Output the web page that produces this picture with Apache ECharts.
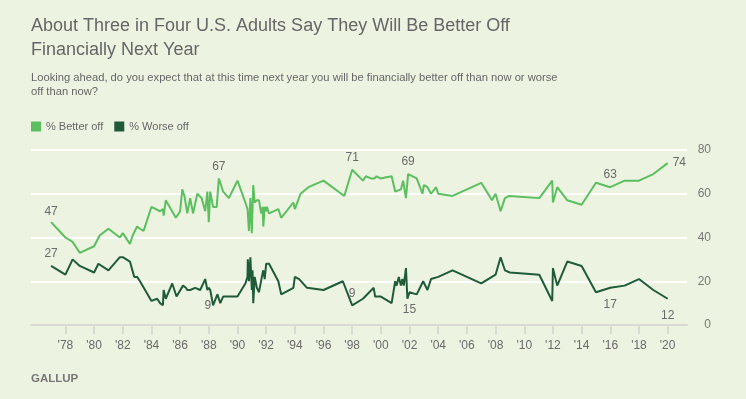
<!DOCTYPE html>
<html>
<head>
<meta charset="utf-8">
<script src="https://cdn.jsdelivr.net/npm/echarts@6/dist/echarts.min.js"></script>
<style>
html,body{margin:0;padding:0;background:#EDF3E1;}
#chart{width:746px;height:399px;}
</style>
</head>
<body>
<div id="chart"></div>
<script>
// ---- Data ----
const betterYears = [1977.0,1978.0,1978.5,1979.0,1980.0,1980.4,1981.0,1981.8,1982.0,1982.5,1982.7,1982.8,1983.0,1983.2,1983.45,1984.0,1984.6,1984.8,1984.85,1985.0,1985.7,1986.0,1986.15,1986.3,1986.5,1986.7,1986.9,1987.2,1987.5,1987.75,1987.9,1988.0,1988.1,1988.3,1988.55,1988.7,1989.0,1989.4,1989.85,1990.0,1990.55,1990.7,1990.8,1990.9,1991.0,1991.1,1991.2,1991.35,1991.5,1991.65,1991.75,1991.8,1991.9,1992.0,1992.05,1992.2,1992.85,1993.05,1993.9,1994.0,1994.4,1994.95,1996.0,1997.45,1998.0,1998.75,1998.95,1999.3,1999.55,1999.7,1999.95,2000.75,2001.0,2001.4,2001.55,2001.75,2001.9,2002.5,2002.9,2003.0,2003.25,2003.5,2003.85,2004.0,2005.0,2007.0,2007.75,2008.0,2008.35,2008.65,2008.95,2011.05,2011.95,2012.0,2012.3,2013.0,2014.0,2015.0,2016.0,2017.0,2018.0,2019.0,2020.0];
const betterValues = [47,40,38,33,36,41,44,40,42,37,41,41,45,44,43,54,52,53,50,57,49,52,62,59,51,58,51,60,58,52,61,47,61,54,54,67,61,58,64,66,56,53,43,58,42,64,56,57,57,51,54,45,54,52,54,51,53,49,56,53,60,63,66,59,71,66,68,67,67,68,67,68,61,62,66,58,69,67,60,64,63,60,63,60,59,65,57,60,52,58,59,58,66,56,63,57,55,65,63,66,66,69,74];

const worseYears = [1977.0,1978.0,1978.5,1979.0,1980.0,1980.3,1981.0,1981.8,1982.0,1982.5,1982.8,1983.0,1983.2,1984.0,1984.4,1984.6,1984.8,1984.85,1985.0,1985.45,1985.75,1986.2,1986.4,1986.5,1986.7,1987.05,1987.4,1987.5,1987.75,1987.9,1988.0,1988.1,1988.3,1988.6,1988.8,1989.0,1989.85,1990.0,1990.55,1990.7,1990.72,1990.8,1990.9,1991.0,1991.05,1991.1,1991.2,1991.35,1991.5,1991.7,1991.8,1991.9,1992.0,1992.2,1992.85,1993.05,1993.9,1994.0,1994.3,1994.85,1996.0,1997.35,1998.0,1998.75,1999.5,1999.6,2000.0,2000.75,2001.0,2001.1,2001.25,2001.4,2001.5,2001.6,2001.75,2001.85,2002.0,2002.5,2002.95,2003.25,2003.5,2004.0,2005.0,2007.0,2008.0,2008.35,2008.65,2009.0,2011.05,2011.95,2012.0,2012.3,2013.0,2014.0,2015.0,2016.0,2017.0,2018.0,2019.0,2020.0];
const worseValues = [27,23,30,27,24,28,25,31,31,29,22,22,20,11,12,10,9,16,12,19,13,18,17,16,16,17,16,16,21,16,17,16,9,14,10,13,13,13,19,22,30,20,31,16,25,10,22,17,15,22,25,21,28,28,20,14,17,22,21,17,16,20,9,12,17,13,13,10,20,18,22,18,21,18,26,12,15,14,20,16,21,22,25,19,23,31,25,24,23,11,26,18,29,27,15,17,18,21,16,12];

const tickYears = [1978,1980,1982,1984,1986,1988,1990,1992,1994,1996,1998,2000,2002,2004,2006,2008,2010,2012,2014,2016,2018,2020];
const tickLabels = ["'78","'80","'82","'84","'86","'88","'90","'92","'94","'96","'98","'00","'02","'04","'06","'08","'10","'12","'14","'16","'18","'20"];

const seriesNames = ['% Better off', '% Worse off'];
const titleLines = ['About Three in Four U.S. Adults Say They Will Be Better Off', 'Financially Next Year'];
const subtitleLines = ['Looking ahead, do you expect that at this time next year you will be financially better off than now or worse', 'off than now?'];
const sourceText = 'GALLUP';

// labelled points (by year)
const betterLabelYears = [1977.0, 1988.7, 1998.0, 2001.9, 2016.0, 2020.0];
const worseLabelYears = [1977.0, 1988.3, 1998.0, 2002.0, 2016.0, 2020.0];

// ---- Styling ----
const LIGHT = '#5CBF5F';
const DARK = '#1F5B39';
const TEXT = '#6A6A6A';
const FONT = 'Liberation Sans, Arial, sans-serif';

function labelStyle(pos, dist, offset) {
  return {show: true, position: pos, distance: dist, offset: offset || [0, 0],
    color: TEXT, fontSize: 12, fontFamily: FONT,
    formatter: (p) => String(p.value[1])};
}
const betterLabelPos = {1977: ['top', 5], 1988.7: ['top', 6], 1998: ['top', 6], 2001.9: ['top', 6], 2016: ['top', 7], 2020: ['right', 5, [0, -3]]};
const worseLabelPos = {1977: ['top', 6], 1988.3: ['left', 2], 1998: ['top', 6], 2002: ['bottom', 11], 2016: ['bottom', 11], 2020: ['bottom', 11]};

function buildData(years, values, labelYears, posMap) {
  return years.map((y, i) => {
    const item = {value: [y, values[i]]};
    if (labelYears.indexOf(y) >= 0) {
      const p = posMap[y];
      item.label = labelStyle(p[0], p[1], p[2]);
    }
    return item;
  });
}

const chart = echarts.init(document.getElementById('chart'), null, {renderer: 'canvas'});

chart.setOption({
  backgroundColor: '#EDF3E1',
  animation: false,
  textStyle: {fontFamily: FONT},
  title: [
    {text: titleLines.join('\n'), left: 31, top: 14, padding: 0,
     textStyle: {fontSize: 18, lineHeight: 24, color: '#666666', fontWeight: 'normal', fontFamily: FONT}},
    {text: subtitleLines.join('\n'), left: 31, top: 71, padding: 0,
     textStyle: {fontSize: 11.2, lineHeight: 14, color: '#666666', fontWeight: 'normal', fontFamily: FONT}}
  ],
  legend: {
    left: 31, top: 121, padding: 0, icon: 'rect', itemWidth: 10, itemHeight: 10, itemGap: 11,
    data: seriesNames,
    textStyle: {color: '#666666', fontSize: 11, fontFamily: FONT}
  },
  grid: {left: 31, right: 59, top: 150, bottom: 74, containLabel: false},
  xAxis: {
    type: 'value', min: 1975.6, max: 2021.35,
    axisLine: {show: true, lineStyle: {color: '#D9DAD4', width: 2}},
    axisTick: {show: true, customValues: tickYears, length: 9, lineStyle: {color: '#D9DAD4', width: 2}},
    axisLabel: {show: true, customValues: tickYears, margin: 15, color: TEXT, fontSize: 12, fontFamily: FONT,
      formatter: (v) => tickLabels[tickYears.indexOf(Math.round(v))] || ''},
    splitLine: {show: false}
  },
  yAxis: {
    type: 'value', position: 'right', min: 0, max: 80, interval: 20,
    axisLine: {show: false}, axisTick: {show: false},
    axisLabel: {color: '#777777', fontSize: 12, align: 'right', margin: 24, fontFamily: FONT},
    splitLine: {show: true, lineStyle: {color: '#FFFFFF', width: 2}}
  },
  series: [
    {name: seriesNames[0], type: 'line', showSymbol: true, symbol: 'circle', symbolSize: 0,
     color: LIGHT, lineStyle: {color: LIGHT, width: 2}, z: 3, labelLayout: {hideOverlap: false},
     emphasis: {disabled: true},
     data: buildData(betterYears, betterValues, betterLabelYears, betterLabelPos)},
    {name: seriesNames[1], type: 'line', showSymbol: true, symbol: 'circle', symbolSize: 0,
     color: DARK, lineStyle: {color: DARK, width: 2}, z: 3, labelLayout: {hideOverlap: false},
     emphasis: {disabled: true},
     data: buildData(worseYears, worseValues, worseLabelYears, worseLabelPos)}
  ],
  graphic: [
    {type: 'text', left: 31, top: 373,
     style: {text: sourceText, fill: '#777777', fontSize: 11.5, fontWeight: 'bold', fontFamily: FONT}}
  ]
});
</script>
</body>
</html>
